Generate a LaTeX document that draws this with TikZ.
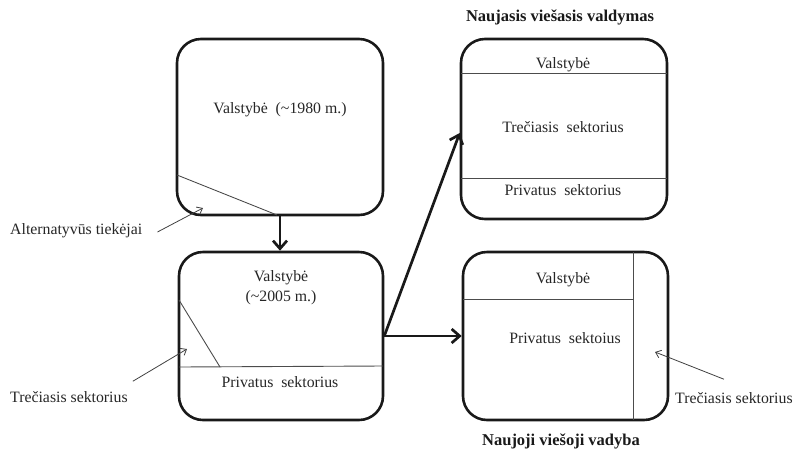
\documentclass[tikz,border=0pt]{standalone}
\usepackage{fontspec}
\setmainfont{Liberation Serif}
\newfontfamily\diagfont{Liberation Serif}
\usetikzlibrary{arrows.meta}
\begin{document}
\begin{tikzpicture}[x=1pt,y=-1pt,
  panel/.style={draw=black!90, line width=2.6pt, rounded corners=24pt, inner sep=0pt},
  divider/.style={draw=black!70, line width=0.9pt},
  label/.style={font=\diagfont\fontsize{15.8}{20}\selectfont, text=black!85, inner sep=1pt},
  heading/.style={font=\diagfont\fontsize{16.5}{19}\selectfont\bfseries, text=black!90, inner sep=0pt},
  flow/.style={line width=2.7pt, black!90, -{Straight Barb[length=8pt,width=14pt]}},
  pointer/.style={line width=0.8pt, black!75, -{Straight Barb[length=5pt,width=8pt]}}]
\useasboundingbox (0,0) rectangle (796,451);

% panels
\node[panel, minimum width=206pt, minimum height=176pt] (p1) at (280,127) {};
\node[panel, minimum width=204pt, minimum height=168pt] (p2) at (281,336) {};
\node[panel, minimum width=206pt, minimum height=180pt] (p3) at (564,129) {};
\node[panel, minimum width=205pt, minimum height=168pt] (p4) at (565.5,336) {};

% sector boundaries inside the panels
\draw[divider] (177,175) -- (277,215);
\draw[divider] (179,300) -- (220,367);
\draw[divider] (179,367) -- (383,366);
\draw[divider] (461,73) -- (667,73);
\draw[divider] (461,178) -- (667,178);
\draw[divider] (633,252) -- (633,420);
\draw[divider] (463,299) -- (633,299);

% panel texts
\node[label] (s1) at (280,110) {Valstybė\ \ (\textasciitilde1980 m.)};
\node[label, align=center] (s2) at (281,288) {Valstybė\\(\textasciitilde2005 m.)};
\node[label] (s2p) at (280,382) {Privatus\ \ sektorius};
\node[label] (s3v) at (563,65) {Valstybė};
\node[label] (s3t) at (563,127) {Trečiasis\ \ sektorius};
\node[label] (s3p) at (563,190) {Privatus\ \ sektorius};
\node[label] (s4v) at (563,280) {Valstybė};
\node[label] (s4p) at (565,338) {Privatus\ \ sektoius};

% headings
\node[heading] (h1) at (560,17) {Naujasis viešasis valdymas};
\node[heading, anchor=base] (h2) at (561,445.5) {Naujoji viešoji vadyba};

% side labels
\node[label, anchor=west] (l1) at (9,231) {Alternatyvūs tiekėjai};
\node[label, anchor=west] (l2) at (9,397) {Trečiasis sektorius};
\node[label, anchor=west] (l3) at (674,398) {Trečiasis sektorius};

\coordinate (t1) at (203,208);
\coordinate (t2) at (187,349);
\coordinate (t3) at (655,352);

% pointers to the sectors
\draw[pointer] ([xshift=14pt,yshift=-1pt]l1.east) -- (t1);
\draw[pointer] ([xshift=4pt,yshift=9pt]l2.north east) -- (t2);
\draw[pointer] ([xshift=-10pt,yshift=12pt]l3.north) -- (t3);

% transitions
\draw[flow] (p1.south) -- (p1.south |- p2.north);
\draw[flow] (p2.east) -- ([yshift=-4pt]p3.west);
\draw[flow] (p2.east) -- (p4.west);
\end{tikzpicture}
\end{document}
